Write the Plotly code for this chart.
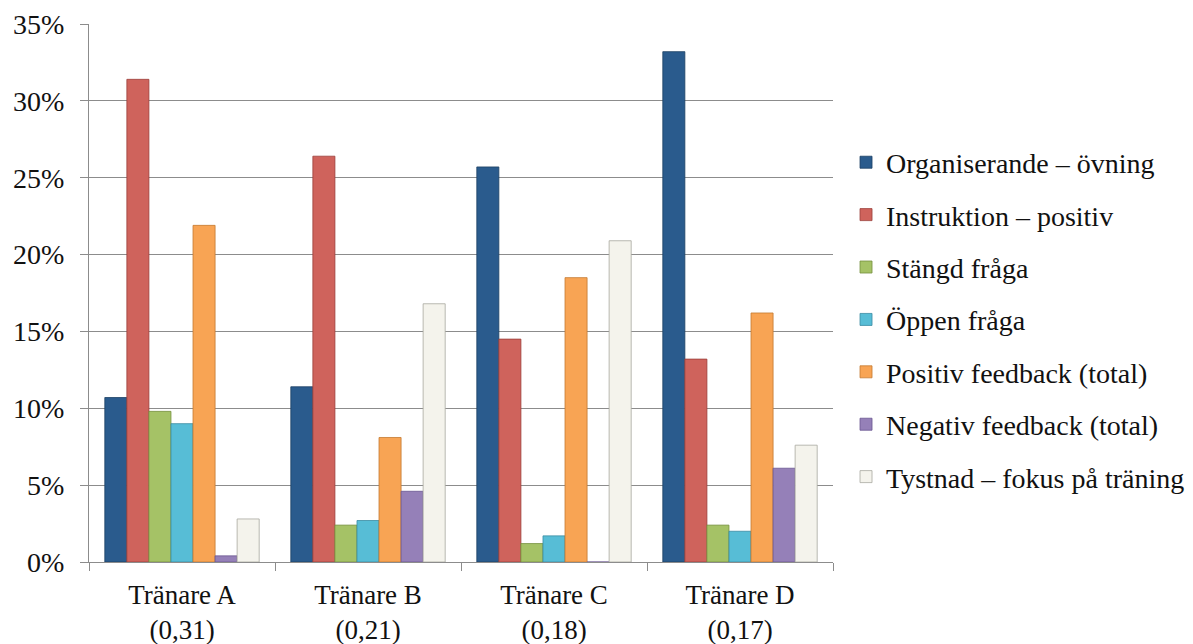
import plotly.graph_objects as go

categories = ["Tränare A<br>(0,31)", "Tränare B<br>(0,21)", "Tränare C<br>(0,18)", "Tränare D<br>(0,17)"]
series_names = [
    "Organiserande – övning",
    "Instruktion – positiv",
    "Stängd fråga",
    "Öppen fråga",
    "Positiv feedback (total)",
    "Negativ feedback (total)",
    "Tystnad – fokus på träning",
]
organiserande = [10.7, 11.4, 25.7, 33.2]
instruktion = [31.4, 26.4, 14.5, 13.2]
stangd = [9.8, 2.4, 1.2, 2.4]
oppen = [9.0, 2.7, 1.7, 2.0]
positiv = [21.9, 8.1, 18.5, 16.2]
negativ = [0.4, 4.6, 0.0, 6.1]
tystnad = [2.8, 16.8, 20.9, 7.6]
y_ticks = [0, 5, 10, 15, 20, 25, 30, 35]

series_values = [organiserande, instruktion, stangd, oppen, positiv, negativ, tystnad]
colors = ["#2A5B8D", "#CF635C", "#A5C266", "#57BDD6", "#F8A454", "#9580B8", "#F4F3EC"]
edges = ["#1C3F63", "#9A3F3A", "#76903F", "#3A8CA2", "#C47A30", "#6A5690", "#A8A8A0"]

FONT = "Liberation Serif"

fig = go.Figure()
for i, (name, vals) in enumerate(zip(series_names, series_values)):
    fig.add_trace(go.Bar(
        name=name,
        x=categories,
        y=vals,
        legendgroup=f"g{i}",
        marker=dict(color=colors[i], line=dict(color=edges[i], width=0.8)),
    ))

fig.update_layout(
    width=1193,
    height=644,
    margin=dict(l=81, r=368, t=16, b=90, autoexpand=False),
    paper_bgcolor="white",
    plot_bgcolor="white",
    barmode="group",
    bargap=0.17,
    bargroupgap=0,
    font=dict(family=FONT, size=28, color="#111111"),
    showlegend=True,
    legend=dict(
        x=1.0175, y=0.4507, xanchor="left", yanchor="middle",
        font=dict(family=FONT, size=28, color="#111111"),
        tracegroupgap=13,
        traceorder="grouped",
        itemwidth=30,
    ),
    xaxis=dict(
        automargin=False,
        showline=True, linecolor="#8C8C8C", linewidth=1.3,
        ticks="outside", tickson="boundaries", ticklen=8, tickcolor="#8C8C8C",
        tickfont=dict(family=FONT, size=27),
        ticklabelstandoff=8,
        showgrid=False,
    ),
    yaxis=dict(
        automargin=False,
        range=[0, 35],
        tickvals=y_ticks,
        ticktext=[f"{v}%" for v in y_ticks],
        showline=True, linecolor="#8C8C8C", linewidth=1.3,
        ticks="outside", ticklen=8, tickcolor="#8C8C8C",
        showgrid=True, gridcolor="#8C8C8C", gridwidth=1.3,
        zeroline=False,
        ticklabelstandoff=10,
        tickfont=dict(family=FONT, size=28),
    ),
)

fig.write_html("out.html")
